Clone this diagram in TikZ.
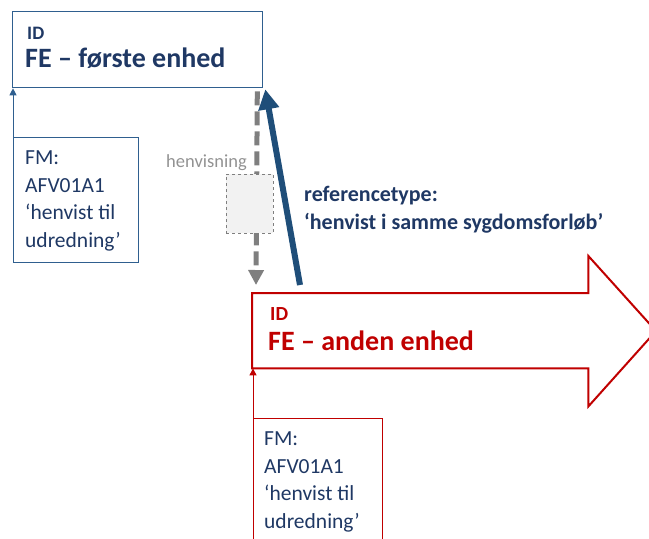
\documentclass[tikz,border=0pt]{standalone}
\usepackage{fontspec}
\setmainfont{Carlito}
\usetikzlibrary{arrows.meta,positioning}
\definecolor{darkblue}{HTML}{1F3864}
\definecolor{boxblue}{HTML}{2F5F8F}
\definecolor{arrowblue}{HTML}{1F4E79}
\definecolor{darkred}{HTML}{C00000}
\definecolor{midgray}{HTML}{7F7F7F}
\definecolor{lightgray}{HTML}{F2F2F2}

\begin{document}
\begin{tikzpicture}[x=1pt,y=-1pt,
    unit box/.style={draw,line width=1.3pt,inner sep=0pt,anchor=north west},
    fm box/.style={draw,line width=0.9pt,inner sep=0pt,anchor=north west},
    fm text/.style={anchor=base west,align=left,inner sep=0pt,text=darkblue,
        font=\fontsize{21.5}{27.5}\selectfont},
    id text/.style={anchor=base west,inner sep=0pt,font=\fontsize{19}{21}\selectfont\bfseries},
    name text/.style={anchor=base west,inner sep=0pt,font=\fontsize{28}{32}\selectfont\bfseries},
    thin arrow/.style={line width=1pt,-{Triangle[width=7pt,length=7pt]}}]

    \clip (0,0) rectangle (649,539);

    % first unit
    \node[unit box,draw=boxblue,minimum width=250pt,minimum height=76pt] (fe1) at (12,11) {};
    \node[id text,text=darkblue] (id1) at (27,39) {ID};
    \node[name text,text=darkblue] (name1) at (25,67) {FE – første enhed};

    \node[fm box,draw=boxblue,minimum width=125pt,minimum height=125pt] (fm1) at (13,137) {};
    \node[fm text] (fmtxt1) at (25,247) {FM:\\AFV01A1\\‘henvist til\\udredning’};
    \draw[thin arrow,boxblue] (fm1.north west) -- (fm1.north west |- fe1.south);

    % second unit (block arrow)
    \node[inner sep=0pt,anchor=north west,minimum width=336pt,minimum height=75pt] (fe2) at (252,293) {};
    \draw[darkred,line width=2pt,line join=miter,fill=white]
        (fe2.north west) -- (fe2.north east) -- ++(0,-37) -- (656,331)
        -- ([yshift=-38pt]fe2.south east) -- (fe2.south east) -- (fe2.south west) -- cycle;
    \node[id text,text=darkred,font=\fontsize{20}{22}\selectfont\bfseries] (id2) at (270,320) {ID};
    \node[name text,text=darkred] (name2) at (268,350) {FE – anden enhed};

    \node[fm box,draw=darkred,minimum width=129pt,minimum height=150pt] (fm2) at (253,418) {};
    \node[fm text] (fmtxt2) at (264,528) {FM:\\AFV01A1\\‘henvist til\\udredning’};
    \draw[thin arrow,darkred] (fm2.north west) -- (fm2.north west |- fe2.south);

    % henvisning
    \draw[midgray,line width=5pt,dash pattern=on 14pt off 6pt,-{Triangle[width=15pt,length=15pt]}]
        ([xshift=-6pt,yshift=-3pt]fe1.south east) -- ([xshift=4pt,yshift=8pt]fe2.north west);
    \node[draw=midgray,dashed,fill=lightgray,line width=0.8pt,minimum width=47pt,minimum height=59pt] (hv) at (249.5,203.5) {};
    \node[anchor=base east,inner sep=0pt,text=midgray!85,font=\fontsize{18.5}{20}\selectfont] (hvlabel) at (247,167) {henvisning};

    % referencetype
    \coordinate (reftail) at (300,285);
    \draw[arrowblue,line width=6pt,-{Triangle[width=20pt,length=20pt]}]
        (reftail) -- ([xshift=2pt,yshift=-1pt]fe1.south east);
    \node[anchor=base west,align=left,inner sep=0pt,text=darkblue,
        font=\fontsize{22}{28}\selectfont\bfseries] (reflabel) at (304,229)
        {referencetype:\\‘henvist i samme sygdomsforløb’};
\end{tikzpicture}
\end{document}
